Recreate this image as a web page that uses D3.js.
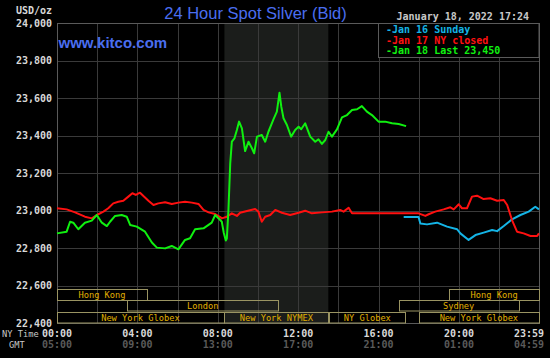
<!DOCTYPE html>
<html><head><meta charset="utf-8">
<script src="https://cdn.jsdelivr.net/npm/d3@7"></script>
<style>html,body{margin:0;padding:0;background:#000;overflow:hidden}</style>
</head><body><svg id="c" width="550" height="358"></svg>
<script>
// ---------- data ----------
const titleText = "24 Hour Spot Silver (Bid)";
const dateText = "January 18, 2022 17:24";
const unitText = "USD/oz";
const siteText = "www.kitco.com";

const yTicks = [22400, 22600, 22800, 23000, 23200, 23400, 23600, 23800, 24000];
const xTickHours = [0, 4, 8, 12, 16, 20, 23.983];
const nyTimeLabels = ["00:00", "04:00", "08:00", "12:00", "16:00", "20:00", "23:59"];
const gmtLabels = ["05:00", "09:00", "13:00", "17:00", "21:00", "01:00", "04:59"];

const legendLabels = ["Jan 16 Sunday", "Jan 17 NY closed", "Jan 18 Last 23,450"];

// [hour (NY time), price]
const jan16Sunday = [
  [17.25,22965],[17.99,22965],[18.08,22931],[18.41,22926],[18.91,22935],[19.41,22914],
  [19.91,22900],[20.07,22878],[20.48,22843],[20.82,22869],[21.23,22882],[21.65,22896],
  [21.90,22890],[22.23,22917],[22.64,22953],[23.06,22976],[23.47,22994],[23.80,23020],[23.98,23006]
];
const jan17Closed = [
  [0,23012],[0.48,23006],[0.90,22990],[1.39,22967],[1.73,22958],[1.98,22976],[2.31,22994],
  [2.55,23012],[2.80,23038],[3.05,23047],[3.30,23052],[3.55,23074],[3.75,23092],[3.92,23083],
  [4.13,23095],[4.30,23077],[4.55,23052],[4.80,23029],[5.04,23038],[5.38,23044],[5.71,23035],
  [6.04,23042],[6.37,23047],[6.71,23042],[7.04,23035],[7.29,23003],[7.54,22990],[7.87,22981],
  [8.12,22965],[8.20,22958],[8.45,22967],[8.70,22985],[8.95,22971],[9.11,22988],[9.45,22997],
  [9.86,23008],[10.02,22994],[10.19,22940],[10.36,22967],[10.61,22976],[10.86,23003],[11.19,22988],
  [11.60,22976],[12.02,22988],[12.35,22999],[12.68,22985],[13.18,22990],[13.68,22994],[14.09,23003],
  [14.26,22994],[14.51,23015],[14.68,22985],[17.99,22985],[18.33,22971],[18.49,22980],[18.82,22994],
  [19.24,23006],[19.57,23017],[19.74,23006],[19.99,23033],[20.15,23012],[20.40,23012],[20.65,23074],
  [20.90,23079],[21.23,23061],[21.56,23065],[21.90,23052],[22.23,23056],[22.40,23029],[22.64,22949],
  [22.89,22887],[23.22,22878],[23.56,22864],[23.89,22864],[23.98,22878]
];
const jan18Last = [
  [0,22878],[0.48,22887],[0.65,22940],[0.81,22935],[1.06,22900],[1.39,22935],[1.73,22946],
  [1.98,22976],[2.23,22935],[2.48,22917],[2.64,22940],[2.89,22971],[3.22,22976],[3.47,22967],
  [3.64,22923],[3.97,22914],[4.38,22887],[4.72,22829],[4.97,22802],[5.38,22798],[5.71,22811],
  [6.04,22793],[6.37,22843],[6.62,22852],[6.87,22900],[7.29,22905],[7.54,22923],[7.70,22935],
  [7.87,22976],[8.12,22949],[8.20,22940],[8.30,22880],[8.40,22840],[8.45,22850],[8.53,23003],
  [8.62,23252],[8.70,23367],[8.83,23385],[8.95,23429],[9.06,23474],[9.20,23438],[9.36,23317],
  [9.53,23367],[9.70,23332],[9.81,23305],[9.95,23394],[10.19,23403],[10.36,23367],[10.52,23420],
  [10.77,23486],[10.94,23527],[11.07,23628],[11.16,23554],[11.27,23492],[11.44,23456],[11.65,23394],
  [11.85,23429],[12.02,23447],[12.15,23433],[12.35,23465],[12.60,23394],[12.85,23367],[13.01,23380],
  [13.18,23355],[13.35,23376],[13.51,23420],[13.68,23394],[13.93,23433],[14.18,23497],[14.43,23509],
  [14.68,23536],[14.93,23540],[15.17,23557],[15.42,23527],[15.67,23509],[16.00,23474],[16.33,23474],
  [16.67,23465],[17.00,23461],[17.37,23450]
];

// trading sessions: [name, row, startHour, endHour]
const sessions = [
  ["Hong Kong", 0, 0, 4.48],
  ["Hong Kong", 0, 19.52, 23.983],
  ["London", 1, 3.5, 11.0],
  ["Sydney", 1, 17.0, 22.97],
  ["New York Globex", 2, 0, 8.3],
  ["New York NYMEX", 2, 8.33, 13.5],
  ["NY Globex", 2, 13.55, 17.33],
  ["New York Globex", 2, 18.0, 23.983]
];
const nymexHours = [8.33, 13.5];

// ---------- drawing ----------
const svg = d3.select("#c");
const W = 550, H = 358;
const L = 57, R = 539, T = 23, B = 323;
const mono = "'DejaVu Sans Mono', monospace";
const sans = "'Liberation Sans', Arial, sans-serif";

svg.append("rect").attr("width", W).attr("height", H).attr("fill", "#000");

const x = d3.scaleLinear().domain([0, 23.983]).range([L, R]);
const y = d3.scaleLinear().domain([22400, 24000]).range([B, T]);

// NYMEX shading
svg.append("rect")
  .attr("x", x(nymexHours[0])).attr("y", T)
  .attr("width", x(nymexHours[1]) - x(nymexHours[0])).attr("height", B - T)
  .attr("fill", "#1b1d1b");

// grid
const grid = svg.append("g").attr("stroke", "#3a3a3a").attr("stroke-width", 1);
grid.selectAll("line.h").data(yTicks).join("line")
  .attr("x1", L).attr("x2", R)
  .attr("y1", d => Math.round(y(d)) + 0.5).attr("y2", d => Math.round(y(d)) + 0.5);
grid.selectAll("line.v").data(d3.range(0, 24, 2)).join("line")
  .attr("y1", T).attr("y2", B)
  .attr("x1", d => Math.round(x(d)) + 0.5).attr("x2", d => Math.round(x(d)) + 0.5);

// border
svg.append("rect").attr("x", L + 0.5).attr("y", T + 0.5)
  .attr("width", R - L).attr("height", B - T)
  .attr("fill", "none").attr("stroke", "#5a5a5a");

// y axis labels
const yAxis = d3.axisLeft(y).tickValues(yTicks).tickSize(0).tickPadding(5)
  .tickFormat(d3.format(",.0f"));
const gy = svg.append("g").attr("transform", `translate(${L},0)`).call(yAxis);
gy.select(".domain").remove();
gy.selectAll("text").attr("font-family", mono).attr("font-size", 10)
  .attr("font-weight", "bold").attr("fill", "#d8d8d8");

svg.append("text").attr("x", 52).attr("y", 13.5).attr("text-anchor", "end")
  .attr("font-family", mono).attr("font-size", 10).attr("font-weight", "bold")
  .attr("fill", "#d8d8d8").text(unitText);

// session boxes
const rowTop = [289, 300, 312];
const rowH = [11, 10.5, 10.5];
const sg = svg.append("g");
sessions.forEach(s => {
  const x0 = x(s[2]), x1 = x(s[3]);
  sg.append("rect").attr("x", Math.round(x0) + 0.5).attr("y", rowTop[s[1]] + 0.5)
    .attr("width", Math.round(x1) - Math.round(x0)).attr("height", rowH[s[1]])
    .attr("fill", "none").attr("stroke", "#9a9462").attr("stroke-width", 1);
  sg.append("text").attr("x", (x0 + x1) / 2).attr("y", rowTop[s[1]] + 9)
    .attr("text-anchor", "middle").attr("font-family", mono).attr("font-size", 8.7)
    .attr("fill", "#e0b000").text(s[0]);
});

// x axis labels
xTickHours.forEach((h, i) => {
  const cx = Math.min(x(h), W - 21);
  svg.append("text").attr("x", cx).attr("y", 337).attr("text-anchor", "middle")
    .attr("font-family", mono).attr("font-size", 10).attr("font-weight", "bold")
    .attr("fill", "#d8d8d8").text(nyTimeLabels[i]);
  svg.append("text").attr("x", cx).attr("y", 348).attr("text-anchor", "middle")
    .attr("font-family", mono).attr("font-size", 10).attr("font-weight", "bold")
    .attr("fill", "#5a5a5a").text(gmtLabels[i]);
});
svg.append("text").attr("x", 2).attr("y", 336.5).attr("font-family", mono)
  .attr("font-size", 8.7).attr("fill", "#c8c8c8").text("NY Time");
svg.append("text").attr("x", 9).attr("y", 347.5).attr("font-family", mono)
  .attr("font-size", 8.7).attr("fill", "#c8c8c8").text("GMT");

// lines
const line = d3.line().x(d => x(d[0])).y(d => y(d[1]));
const series = [
  [jan16Sunday, "#14b4e6"],
  [jan17Closed, "#ff1010"],
  [jan18Last, "#10f010"]
];
series.forEach(s => {
  svg.append("path").datum(s[0]).attr("d", line)
    .attr("fill", "none").attr("stroke", s[1]).attr("stroke-width", 2)
    .attr("stroke-linejoin", "round");
});

// legend
svg.append("rect").attr("x", 378.5).attr("y", T + 0.5).attr("width", R - 378.5)
  .attr("height", 34).attr("fill", "#000").attr("stroke", "#5a5a5a");
legendLabels.forEach((t, i) => {
  svg.append("text").attr("x", 386).attr("y", 33 + i * 10.6)
    .attr("font-family", mono).attr("font-size", 10).attr("font-weight", "bold")
    .attr("fill", series[i][1]).text("-" + t);
});

// titles
svg.append("text").attr("x", 255.5).attr("y", 19).attr("text-anchor", "middle")
  .attr("font-family", sans).attr("font-size", 16.5).attr("fill", "#4a6ef0")
  .text(titleText);
svg.append("text").attr("x", 529).attr("y", 19.5).attr("text-anchor", "end")
  .attr("font-family", mono).attr("font-size", 10).attr("font-weight", "bold")
  .attr("fill", "#c8c8c8").text(dateText);
svg.append("text").attr("x", 58.5).attr("y", 48).attr("font-family", sans)
  .attr("font-size", 15).attr("font-weight", "bold").attr("fill", "#4a6ef0")
  .text(siteText);
</script></body></html>
